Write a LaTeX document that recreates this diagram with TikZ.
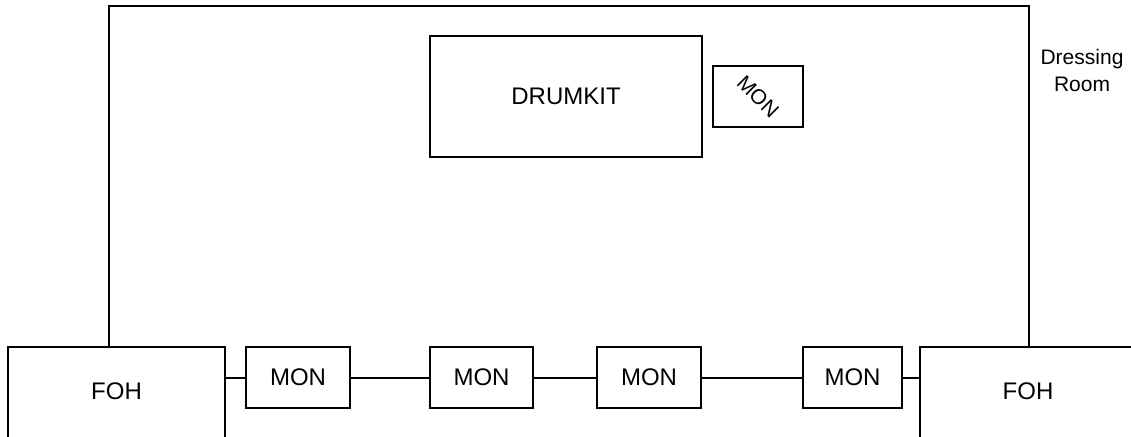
\documentclass[tikz,border=0pt]{standalone}
\usepackage{fontspec}
\setmainfont{Liberation Sans}
\begin{document}
\begin{tikzpicture}[x=1pt,y=-1pt,
  line width=2pt,
  box/.style={draw, line width=2pt, inner sep=0pt, rectangle,
    font=\fontsize{24}{28}\selectfont},
  monbox/.style={box, minimum height=61pt},
  lbl/.style={inner sep=0pt, font=\fontsize{24}{28}\selectfont}
]
\useasboundingbox (0,0) rectangle (1131,436);
\clip (0,0) rectangle (1131,436);

\node[box, minimum width=272pt, minimum height=121pt] (drum) at (566,96.5) {DRUMKIT};
\node[box, minimum width=90pt, minimum height=61pt, font=\fontsize{21}{24}\selectfont] (smon) at (758,96.5) {\rotatebox{-45}{MON}};

\node[monbox, minimum width=104pt] (mon1) at (298,377.5) {MON};
\node[monbox, minimum width=103pt] (mon2) at (481.5,377.5) {MON};
\node[monbox, minimum width=104pt] (mon3) at (649,377.5) {MON};
\node[monbox, minimum width=99pt] (mon4) at (852.5,377.5) {MON};

\node[box, minimum width=217pt, minimum height=140pt] (fohL) at (116.5,417) {};
\node[box, minimum width=216pt, minimum height=140pt] (fohR) at (1028,417) {};
\node[lbl] (fohLt) at ([yshift=-45pt]fohL.north) {FOH};
\node[lbl] (fohRt) at ([yshift=-45pt]fohR.north) {FOH};

\node[align=center, inner sep=0pt, font=\fontsize{21}{27}\selectfont] (dress) at (1082,70) {Dressing\\Room};

\coordinate (stl) at (109,6);
\coordinate (str) at (1029,6);
\draw (stl |- fohL.north) -- (stl) -- (str) -- (str |- fohR.north);

\draw (mon1.west -| fohL.east) -- (mon1.west);
\draw (mon1.east) -- (mon2.west);
\draw (mon2.east) -- (mon3.west);
\draw (mon3.east) -- (mon4.west);
\draw (mon4.east) -- (mon4.east -| fohR.west);
\end{tikzpicture}
\end{document}
